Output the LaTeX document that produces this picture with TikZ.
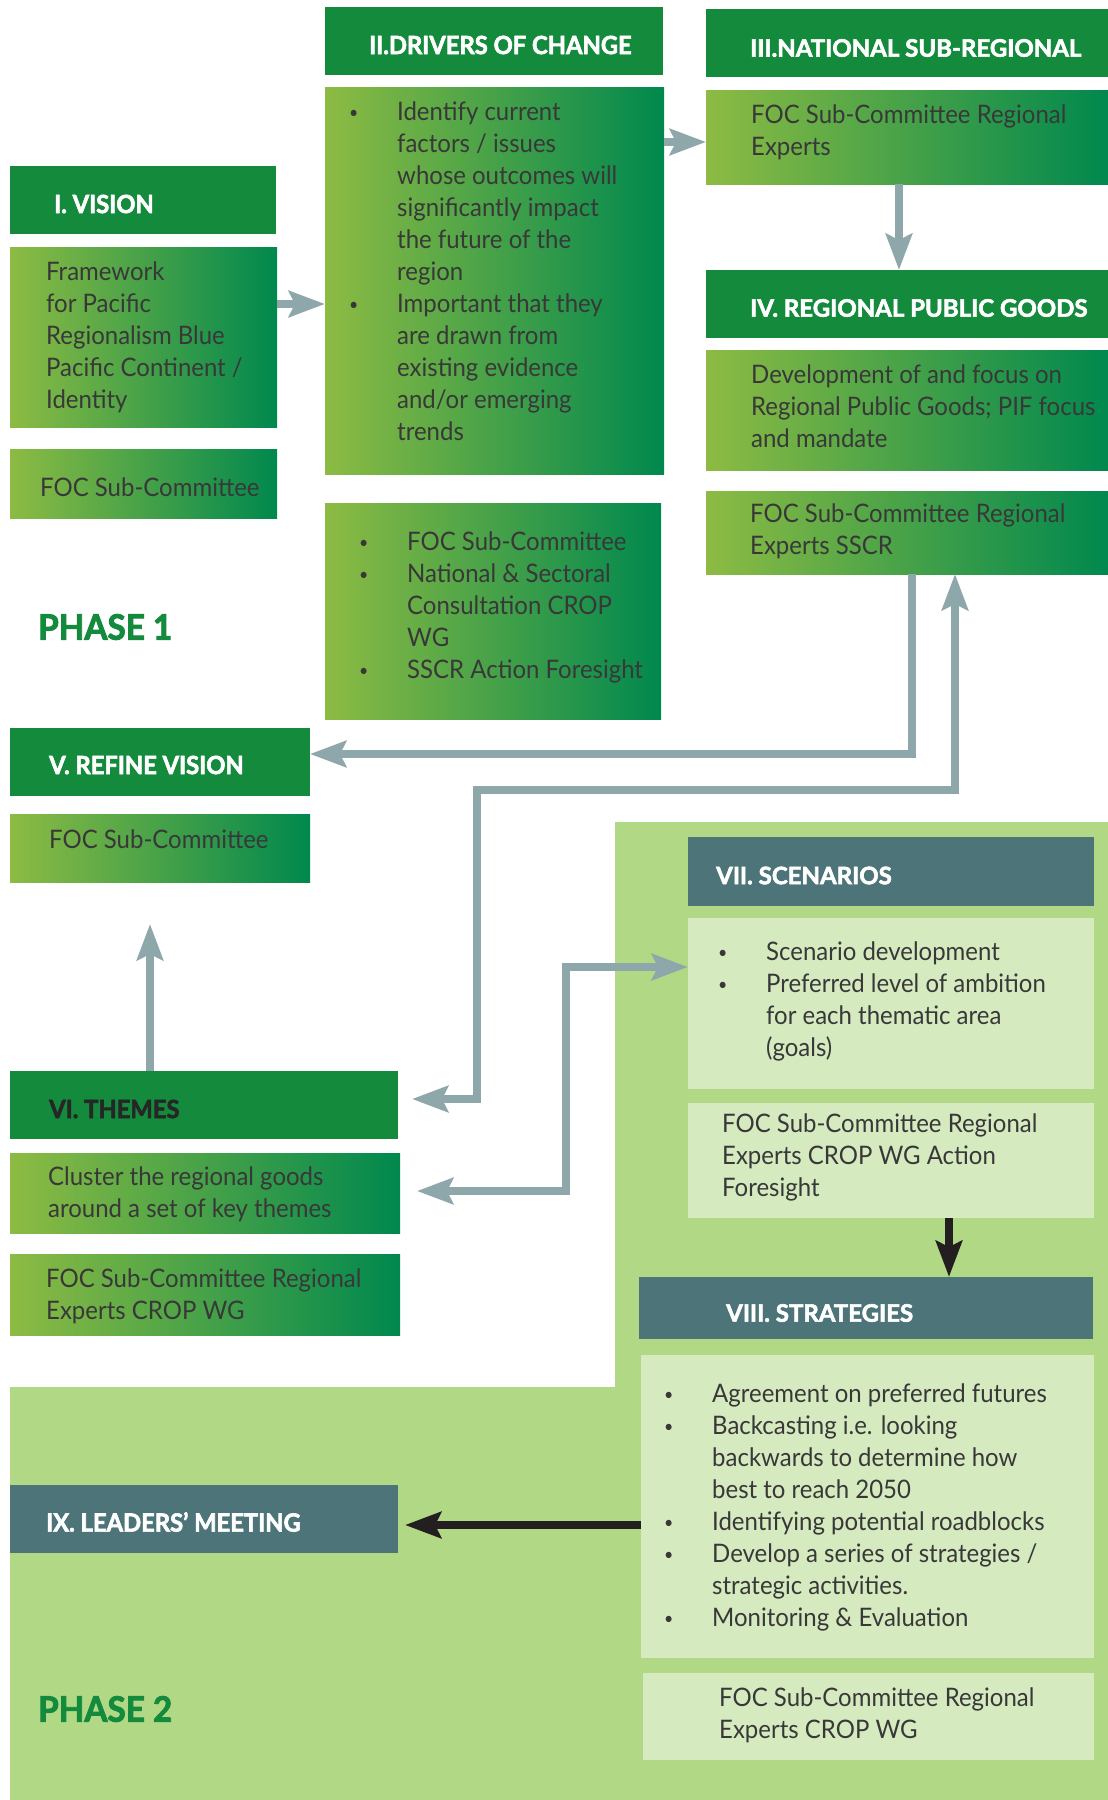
\documentclass[tikz,border=0pt]{standalone}
\usepackage{fontspec}
\setmainfont{Lato}
\newfontfamily\bodyfam[FakeStretch=0.94]{Lato}
\newfontfamily\hdfam[BoldFeatures={FakeBold=2.5}]{Lato}
\newfontfamily\hdcfam[FakeStretch=0.95,BoldFeatures={FakeBold=2.5}]{Lato}
\usetikzlibrary{arrows.meta,calc}

\definecolor{hgreen}{HTML}{138A3C}
\definecolor{gradL}{HTML}{8DBB43}
\definecolor{gradR}{HTML}{00884E}
\definecolor{tealhd}{HTML}{4C7479}
\definecolor{ptwobg}{HTML}{B1D884}
\definecolor{lightbx}{HTML}{D6EAC0}
\definecolor{greyarr}{HTML}{8EA7AB}
\definecolor{blackarr}{HTML}{231F20}
\definecolor{tdark}{HTML}{383838}

\newcommand\txtBody{\bodyfam\fontsize{25.5}{32}\selectfont}
\newcommand\txtHead{\hdfam\bfseries\fontsize{24}{28}\selectfont}
\newcommand\txtHeadC{\hdcfam\bfseries\fontsize{25}{28}\selectfont}
\newcommand\txtPhase{\hdcfam\bfseries\fontsize{35}{40}\selectfont}
\newcommand\bl{\makebox[48pt][l]{\raisebox{2.5pt}{\fontsize{17}{17}\selectfont •}}}
\newcommand\nb{\hspace*{48pt}}

\tikzset{
  box/.style={inner sep=0pt, outer sep=0pt, anchor=north west, draw=none},
  hdr/.style={box, fill=hgreen},
  grad/.style={box, left color=gradL, right color=gradR},
  thdr/.style={box, fill=tealhd},
  lbox/.style={box, fill=lightbx},
  txt/.style={anchor=west, inner sep=0pt, align=left, font=\txtBody, text=tdark},
  htxt/.style={anchor=west, inner sep=0pt, font=\txtHead, text=white},
  hctxt/.style={anchor=west, inner sep=0pt, font=\txtHeadC, text=white},
  phase/.style={anchor=west, inner sep=0pt, font=\txtPhase, text=hgreen},
  tipS/.tip={Stealth[length=36pt,width=26pt,inset=6pt]},
  garr/.style={draw=greyarr, line width=8pt, -tipS},
  gboth/.style={draw=greyarr, line width=8pt, tipS-tipS},
  barr/.style={draw=blackarr, line width=8pt, -tipS},
}

\begin{document}
\begin{tikzpicture}[x=1pt,y=-1pt]
\useasboundingbox (0,0) rectangle (1108,1800);
\fill[white] (0,0) rectangle (1108,1800);

% phase 2 background
\fill[ptwobg] (615,822) -- (1108,822) -- (1108,1800) -- (10,1800) -- (10,1387) -- (615,1387) -- cycle;

% I. Vision
\node[hdr, minimum width=266, minimum height=68] (h1) at (10,166) {};
\node[grad, minimum width=267, minimum height=180] (b1) at (10,247) {};
\node[grad, minimum width=267, minimum height=69] (s1) at (10,449) {};
\node[hctxt] (h1t) at ([xshift=44pt,yshift=-4pt]h1.west) {I. VISION};
\node[txt] (b1t) at ([xshift=36pt,yshift=0pt]b1.west) {Framework\\for Pacific\\Regionalism Blue\\Pacific Continent /\\Identity};
\node[txt] (s1t) at ([xshift=30pt,yshift=-4pt]s1.west) {FOC Sub-Committee};
\node[phase] (p1) at (38,627) {PHASE 1};

% II. Drivers
\node[hdr, minimum width=338, minimum height=68] (h2) at (325,7) {};
\node[grad, minimum width=339, minimum height=387] (b2) at (325,87) {};
\node[grad, minimum width=336, minimum height=216] (s2) at (325,503) {};
\node[hctxt] (h2t) at ([xshift=44pt,yshift=-4pt]h2.west) {II.DRIVERS OF CHANGE};
\node[txt] (b2t) at ([xshift=24pt,yshift=9pt]b2.west) {\bl Identify current\\\nb factors / issues\\\nb whose outcomes will\\\nb significantly impact\\\nb the future of the\\\nb region\\\bl Important that they\\\nb are drawn from\\\nb existing evidence\\\nb and/or emerging\\\nb trends};
\node[txt] (s2t) at ([xshift=34pt,yshift=3.5pt]s2.west) {\bl FOC Sub-Committee\\\bl National \& Sectoral\\\nb Consultation CROP\\\nb WG\\\bl SSCR Action Foresight};

% III. National sub-regional
\node[hdr, minimum width=402, minimum height=68] (h3) at (706,9) {};
\node[grad, minimum width=402, minimum height=94] (b3) at (706,90) {};
\node[htxt] (h3t) at ([xshift=44pt,yshift=-5pt]h3.west) {III.NATIONAL SUB-REGIONAL};
\node[txt] (b3t) at ([xshift=45pt,yshift=5pt]b3.west) {FOC Sub-Committee Regional\\Experts};

% IV. Regional public goods
\node[hdr, minimum width=402, minimum height=68] (h4) at (706,270) {};
\node[grad, minimum width=402, minimum height=120] (b4) at (706,350) {};
\node[grad, minimum width=402, minimum height=83] (s4) at (706,491) {};
\node[htxt] (h4t) at ([xshift=44pt,yshift=-4pt]h4.west) {IV. REGIONAL PUBLIC GOODS};
\node[txt] (b4t) at ([xshift=45pt,yshift=4pt]b4.west) {Development of and focus on\\Regional Public Goods; PIF focus\\and mandate};
\node[txt] (s4t) at ([xshift=44pt,yshift=1.5pt]s4.west) {FOC Sub-Committee Regional\\Experts SSCR};

% V. Refine vision
\node[hdr, minimum width=300, minimum height=68] (h5) at (10,728) {};
\node[grad, minimum width=300, minimum height=68] (b5) at (10,814) {};
\node[hctxt] (h5t) at ([xshift=39pt,yshift=-3pt]h5.west) {V. REFINE VISION};
\node[txt] (b5t) at ([xshift=39pt,yshift=9pt]b5.west) {FOC Sub-Committee};

% VI. Themes
\node[hdr, minimum width=388, minimum height=68] (h6) at (10,1071) {};
\node[grad, minimum width=390, minimum height=80] (b6) at (10,1153) {};
\node[grad, minimum width=390, minimum height=81] (s6) at (10,1254) {};
\node[hctxt, text=black!85] (h6t) at ([xshift=39pt,yshift=-4pt]h6.west) {VI. THEMES};
\node[txt] (b6t) at ([xshift=38pt,yshift=-1.5pt]b6.west) {Cluster the regional goods\\around a set of key themes};
\node[txt] (s6t) at ([xshift=36pt,yshift=-1.5pt]s6.west) {FOC Sub-Committee Regional\\Experts CROP WG};

% VII. Scenarios
\node[thdr, minimum width=406, minimum height=69] (h7) at (688,837) {};
\node[lbox, minimum width=406, minimum height=171] (b7) at (688,918) {};
\node[lbox, minimum width=406, minimum height=115] (s7) at (688,1103) {};
\node[htxt] (h7t) at ([xshift=28pt,yshift=-4pt]h7.west) {VII. SCENARIOS};
\node[txt] (b7t) at ([xshift=30pt,yshift=2pt]b7.west) {\bl Scenario development\\\bl Preferred level of ambition\\\nb for each thematic area\\\nb (goals)};
\node[txt] (s7t) at ([xshift=34pt,yshift=3.5pt]s7.west) {FOC Sub-Committee Regional\\Experts CROP WG Action\\Foresight};

% VIII. Strategies
\node[thdr, minimum width=454, minimum height=62] (h8) at (639,1277) {};
\node[lbox, minimum width=453, minimum height=303] (b8) at (641,1355) {};
\node[lbox, minimum width=451, minimum height=87] (s8) at (643,1673) {};
\node[htxt] (h8t) at ([xshift=87pt,yshift=-5pt]h8.west) {VIII. STRATEGIES};
\node[txt] (b8t) at ([xshift=23pt,yshift=-1pt]b8.west) {\bl Agreement on preferred futures\\\bl Backcasting i.e. looking\\\nb backwards to determine how\\\nb best to reach 2050\\\bl Identifying potential roadblocks\\\bl Develop a series of strategies /\\\nb strategic activities.\\\bl Monitoring \& Evaluation};
\node[txt] (s8t) at ([xshift=76pt,yshift=1.5pt]s8.west) {FOC Sub-Committee Regional\\Experts CROP WG};

% IX. Leaders' meeting
\node[thdr, minimum width=388, minimum height=68] (h9) at (10,1485) {};
\node[hctxt] (h9t) at ([xshift=36pt,yshift=-3pt]h9.west) {IX. LEADERS’ MEETING};
\node[phase] (p2) at (38,1709) {PHASE 2};

% connectors
\coordinate (bendA) at (477,790);
\coordinate (bendB) at (566,967);
\coordinate (tip7) at ($(b5.south)+(-10,42)$);

\draw[garr] ([yshift=33pt]b1.east) -- ([yshift=33pt]b1.east -| b2.west);
\draw[garr] ([yshift=138.5pt]b2.east) -- ([yshift=138.5pt]b2.east -| b3.west);
\draw[garr] ([xshift=-8pt]b3.south) -- ([xshift=-8pt]b3.south |- h4.north);
\draw[garr] ([xshift=5pt]s4.south) |- ([yshift=8pt]h5.east);
\draw[gboth] ([xshift=14pt,yshift=6pt]h6.east) -| (bendA) -| ([xshift=48pt]s4.south);
\draw[gboth] ([xshift=17pt,yshift=2pt]b6.east) -| (bendB) -- (bendB -| b7.west);
\draw[garr] (h6.north -| tip7) -- (tip7);
\draw[barr] ([xshift=58pt]s7.south) -- ([xshift=58pt]s7.south |- h8.north);
\draw[barr] ([yshift=-18.5pt]b8.west) -- ($([yshift=-18.5pt]b8.west -| h9.east)+(7,0)$);
\end{tikzpicture}
\end{document}
